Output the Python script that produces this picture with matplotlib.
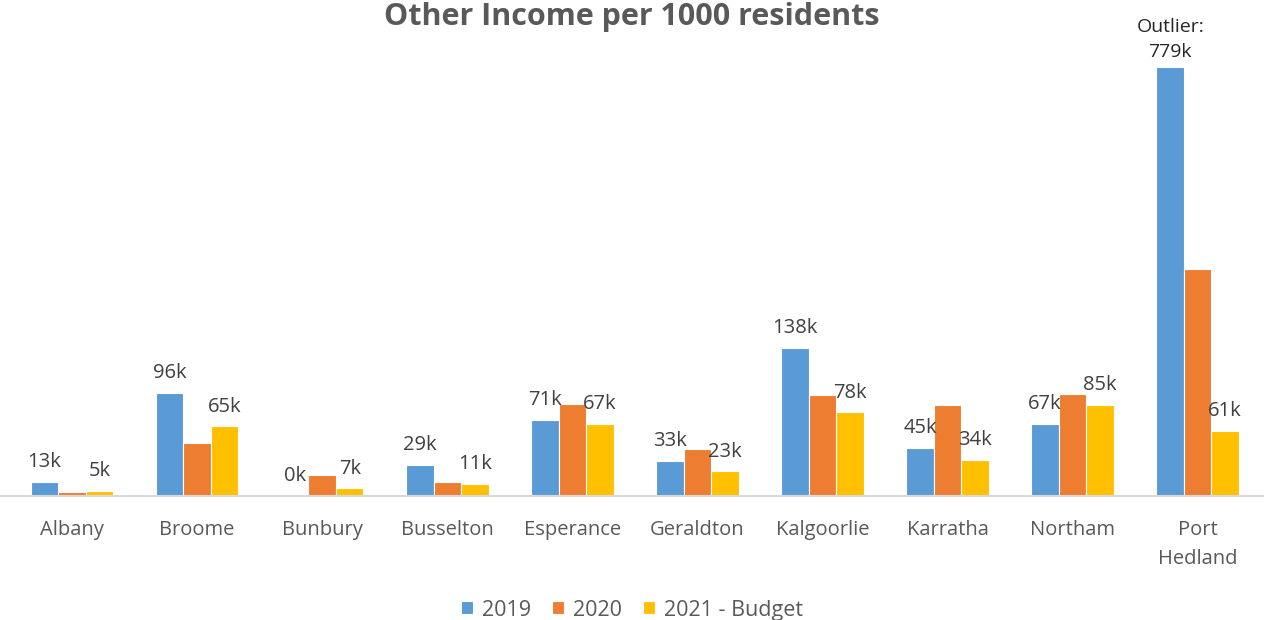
import matplotlib.pyplot as plt
import numpy as np

plt.rcParams['font.family'] = ['Open Sans', 'DejaVu Sans']

towns = ["Albany", "Broome", "Bunbury", "Busselton", "Esperance",
         "Geraldton", "Kalgoorlie", "Karratha", "Northam", "Port\nHedland"]
v2019 = [13, 96, 0, 29, 71, 33, 138, 45, 67, 779]
v2020 = [4, 49, 20, 13, 86, 44, 94, 85, 95, 212]
v2021 = [5, 65, 7, 11, 67, 23, 78, 34, 85, 61]
series = ["2019", "2020", "2021 - Budget"]
colors = ["#5B9BD5", "#ED7D31", "#FFC000"]
ymax = 400

fig = plt.figure(figsize=(12.64, 6.2), dpi=100)
ax = fig.add_axes([0, 0.2, 1, 0.692])

x = np.arange(len(towns))
w = 0.22
for i, (vals, name, c) in enumerate(zip([v2019, v2020, v2021], series, colors)):
    pos = x + (i - 1) * w
    ax.bar(pos, np.minimum(vals, ymax), width=w, color=c, edgecolor="white",
           linewidth=0.8, label=name)
    if name == "2020":
        continue
    for p, v in zip(pos, vals):
        if v > ymax:
            ax.annotate(f"Outlier:\n{v}k", (p, ymax), xytext=(0, 4),
                        textcoords="offset points", ha="center", va="bottom",
                        fontsize=14, color="#262626", linespacing=1.55)
        else:
            ax.annotate(f"{v}k", (p, v), xytext=(0, 7),
                        textcoords="offset points", ha="center", va="bottom",
                        fontsize=14.5, color="#404040")

ax.set_ylim(0, ymax)
ax.set_xlim(-0.576, 9.53)
ax.set_yticks([])
ax.set_xticks(x)
ax.set_xticklabels(towns, fontsize=14.5, color="#595959", linespacing=1.65)
ax.tick_params(axis="x", length=0, pad=17)
for s in ["top", "right", "left"]:
    ax.spines[s].set_visible(False)
ax.spines["bottom"].set_color("#D9D9D9")
ax.spines["bottom"].set_linewidth(1.5)

fig.text(0.5, 0.972, "Other Income per 1000 residents", ha="center", va="center",
         fontsize=22, fontweight="bold", color="#595959")

fig.legend(loc="center", bbox_to_anchor=(0.5, 0.016), ncol=3, frameon=False,
           fontsize=15.5, handlelength=0.55, handleheight=0.55, handletextpad=0.4,
           columnspacing=1.0, labelcolor="#595959")

fig.savefig("out.png", dpi=100)
